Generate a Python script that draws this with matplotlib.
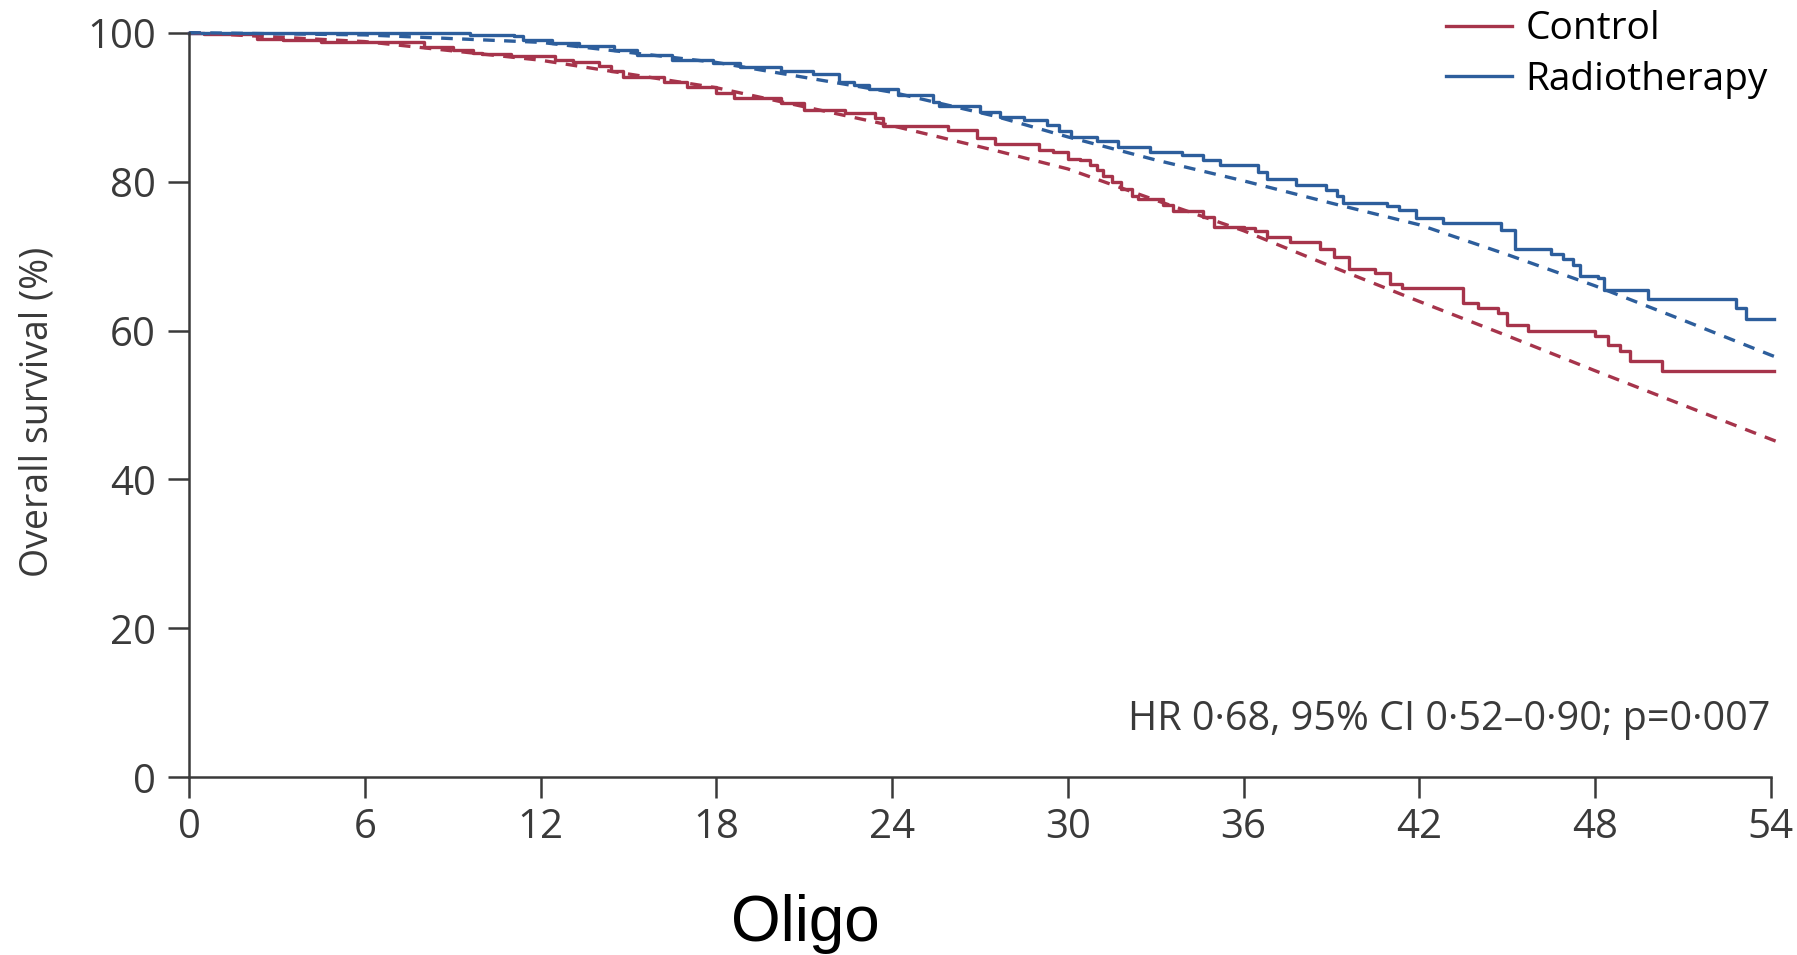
import matplotlib
matplotlib.use("Agg")
import matplotlib.pyplot as plt

# Kaplan-Meier steps (months, overall survival %)
control_t = [0, 0.5, 2.3, 3.2, 4.5, 8.0, 9.0, 9.7, 10.0, 11.0, 12.5, 13.1, 14.0, 14.4,
             14.8, 16.2, 17.0, 18.0, 18.6, 20.2, 21.0, 22.4, 23.4, 23.7, 25.9, 26.9,
             27.5, 29.0, 29.5, 30.0, 30.4, 30.75, 31.0, 31.2, 31.5, 31.8, 32.2, 32.4,
             33.25, 33.6, 34.6, 35.0, 36.0, 36.4, 36.8, 37.6, 38.6, 39.1, 39.6, 40.5,
             41.0, 41.4, 43.5, 44.0, 44.7, 45.0, 45.7, 48.0, 48.45, 48.85, 49.2, 50.3, 54.1]
control_s = [100, 99.8, 99.2, 99.0, 98.7, 98.1, 97.7, 97.3, 97.1, 96.8, 96.3, 96.0, 95.5, 94.8,
             94.1, 93.4, 92.7, 91.9, 91.2, 90.5, 89.6, 89.2, 88.5, 87.4, 86.9, 85.8,
             85.0, 84.3, 84.0, 83.1, 82.9, 82.2, 81.6, 80.7, 80.0, 79.0, 78.0, 77.6,
             76.9, 76.0, 75.3, 73.9, 73.7, 73.3, 72.5, 71.9, 71.0, 69.9, 68.2, 67.7,
             66.3, 65.7, 63.7, 63.0, 62.3, 60.8, 59.9, 59.2, 58.1, 57.2, 55.9, 54.6, 54.6]

radio_t = [0, 4.6, 9.6, 11.1, 11.4, 12.4, 13.3, 14.5, 15.3, 16.5, 17.9, 18.8, 20.2, 21.3,
           22.2, 22.7, 23.2, 24.2, 25.4, 25.6, 27.0, 27.7, 28.5, 29.3, 29.7, 30.1, 31.0,
           31.7, 32.8, 33.9, 34.6, 35.2, 36.5, 36.8, 37.8, 38.8, 39.2, 39.4, 40.9, 41.3,
           41.9, 42.8, 44.8, 45.26, 46.5, 46.9, 47.25, 47.5, 48.1, 48.3, 49.8, 52.8, 53.17, 54.1]
radio_s = [100, 99.9, 99.7, 99.5, 99.0, 98.6, 98.2, 97.7, 97.0, 96.3, 95.9, 95.4, 94.8, 94.5,
           93.4, 93.0, 92.5, 91.6, 90.7, 90.1, 89.4, 88.7, 88.3, 87.6, 86.8, 86.0, 85.4,
           84.7, 84.0, 83.6, 82.9, 82.2, 81.3, 80.4, 79.5, 78.9, 78.0, 77.1, 76.7, 76.2,
           75.1, 74.5, 73.5, 71.0, 70.3, 69.6, 68.8, 67.3, 67.0, 65.4, 64.2, 63.0, 61.5, 61.5]

# fitted (dashed) curves
fit_t = [0, 6, 12, 18, 24, 27.5, 30, 33, 36, 39, 42, 45, 48, 51, 54, 54.4]
control_fit = [100, 98.8, 96.3, 92.6, 87.5, 84.2, 81.7, 77.5, 73.4, 68.6, 63.9, 59.3, 54.6, 50.0, 45.4, 44.8]
radio_fit = [100, 99.7, 98.7, 96.0, 92.0, 88.8, 86.0, 82.9, 80.1, 77.1, 74.2, 70.2, 66.0, 61.4, 56.7, 56.1]

x_ticks = list(range(0, 55, 6))
y_ticks = list(range(0, 101, 20))

RED = "#a6344b"
BLUE = "#2d5e9c"
INK = "#3a3a3a"

plt.rcParams["font.family"] = ["Open Sans", "DejaVu Sans"]

fig = plt.figure(figsize=(17.97, 9.55), dpi=100)
ax = fig.add_axes([0.1053, 0.1861, 0.8801, 0.7797])

ax.step(control_t, control_s, where="post", color=RED, lw=2.4, label="Control", clip_on=False)
ax.step(radio_t, radio_s, where="post", color=BLUE, lw=2.4, label="Radiotherapy", clip_on=False)
ax.plot(fit_t, control_fit, color=RED, lw=2.4, ls=(0, (3.5, 2.8)), clip_on=False)
ax.plot(fit_t, radio_fit, color=BLUE, lw=2.4, ls=(0, (3.5, 2.8)), clip_on=False)

ax.set_xlim(0, 54)
ax.set_ylim(0, 100)
ax.set_xticks(x_ticks)
ax.set_yticks(y_ticks)
for s in ("top", "right"):
    ax.spines[s].set_visible(False)
for s in ("left", "bottom"):
    ax.spines[s].set_linewidth(1.8)
    ax.spines[s].set_color(INK)
ax.tick_params(axis="both", direction="out", length=15, width=1.8, color=INK,
               labelcolor=INK, labelsize=29)
ax.tick_params(axis="x", pad=7)
ax.tick_params(axis="y", pad=9)

fig.text(0.0206, 0.569, "Overall survival (%)", rotation=90, ha="center", va="center",
         fontsize=27, color=INK)

ax.text(1.0, 0.064, "HR 0·68, 95% CI 0·52–0·90; p=0·007", transform=ax.transAxes,
        ha="right", va="baseline", fontsize=28.5, color=INK)

ax.legend(loc="upper right", bbox_to_anchor=(0.998, 1.03), frameon=False, fontsize=28,
          handlelength=1.7, handletextpad=0.35, labelspacing=0.32, borderpad=0,
          borderaxespad=0)

fig.text(0.448, 0.015, "Oligo", ha="center", va="baseline", fontsize=46,
         family="Liberation Sans", color="black")

fig.savefig("out.png", dpi=100)
